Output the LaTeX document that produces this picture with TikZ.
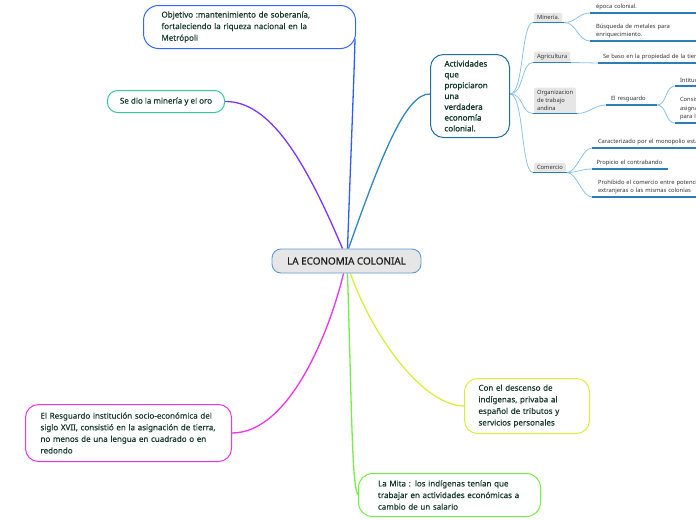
\documentclass[tikz,border=0pt]{standalone}
\usepackage{fontspec}
\setmainfont{Noto Sans}
\newfontfamily\medf{Noto Sans}[FakeBold=0.45]
\newfontfamily\boldf{Noto Sans}[FakeBold=1.4]
\usetikzlibrary{backgrounds}
\definecolor{ink}{HTML}{163A2E}
\definecolor{objblue}{HTML}{3366FF}
\definecolor{objline}{HTML}{2F5CFF}
\definecolor{minteal}{HTML}{33CC99}
\definecolor{purp}{HTML}{7F33FF}
\definecolor{actblue}{HTML}{1E6FA8}
\definecolor{actline}{HTML}{2F86C0}
\definecolor{mag}{HTML}{EE33EE}
\definecolor{ylw}{HTML}{D8F03A}
\definecolor{grn}{HTML}{77EE44}
\definecolor{cborder}{HTML}{5B9BD5}
\definecolor{cfill}{HTML}{E6E6E6}
\definecolor{subline}{HTML}{8CC4E8}
\definecolor{ubarc}{HTML}{2A7FBA}
\definecolor{labfill}{HTML}{E6E6E6}
\definecolor{subtxt}{HTML}{333333}
\tikzset{
  topic/.style={draw, line width=1pt, rounded corners=10pt, text=ink, align=left,
    font=\medf\fontsize{8}{11.6}\selectfont, inner ysep=0pt, anchor=north west},
  central/.style={draw=cborder, fill=cfill, line width=0.9pt, rounded corners=9pt,
    minimum width=149pt, minimum height=24pt, font=\medf\fontsize{9.9}{11}\selectfont,
    text=black!88, inner sep=0pt},
  lbl/.style={fill=labfill, rounded corners=1.5pt, align=left,
    font=\fontsize{5.8}{8.3}\selectfont, text=subtxt, inner xsep=3pt, inner ysep=2.5pt,
    anchor=south west, outer sep=0pt},
  leaf/.style={align=left, font=\fontsize{5.8}{8.5}\selectfont, text=subtxt,
    inner xsep=6pt, inner ysep=3pt, anchor=south west, outer sep=0pt},
  ubar/.style={draw=ubarc, line width=1.8pt},
  twig/.style={draw=subline, line width=0.8pt},
  branch/.style={line width=1.3pt},
}
\begin{document}
\begin{tikzpicture}[x=1pt,y=-1pt]
\useasboundingbox (0,0) rectangle (696,520);

% central
\node[central] (c) at (346.5,261) {LA ECONOMIA COLONIAL};

% main topics
\node[topic, draw=objblue, rounded corners=15pt, text width=176pt, inner xsep=18pt,
  minimum height=43pt] (obj) at (143,5)
  {Objetivo :mantenimiento de soberanía,\\ fortaleciendo la riqueza nacional en la\\ Metrópoli};
\node[topic, draw=minteal, align=center, minimum width=117pt, minimum height=22pt,
  inner xsep=4pt] (oro) at (107,90) {Se dio la minería y el oro};
\node[topic, draw=actblue, rounded corners=13pt, text width=51pt, inner xsep=14pt,
  minimum height=83pt, font=\boldf\fontsize{8}{10.8}\selectfont] (act) at (430,54)
  {Actividades\\ que\\ propiciaron\\ una\\ verdadera\\ economía\\ colonial.};
\node[topic, draw=mag, rounded corners=13pt, text width=176pt, inner xsep=15pt,
  minimum height=57pt] (resg) at (25,404)
  {El Resguardo institución socio-económica del\\ siglo XVII, consistió en la asignación de tierra,\\ no menos de una lengua en cuadrado o en\\ redondo};
\node[topic, draw=ylw, rounded corners=13pt, text width=97pt, inner xsep=14pt,
  minimum height=55pt] (desc) at (464,378)
  {Con el descenso de\\ indígenas, privaba al\\ español de tributos y\\ servicios personales};
\node[topic, draw=grn, rounded corners=14pt, text width=143pt, inner xsep=19.5pt,
  minimum height=43pt] (mita) at (358,473)
  {La Mita : los indígenas tenían que\\ trabajar en actividades económicas a\\ cambio de un salario};

% right subtree labels
\node[lbl] (mine) at (534,22.5) {Minería.};
\node[lbl] (agri) at (534,62.5) {Agricultura};
\node[lbl] (org) at (534,113.5) {Organizacion\\ de trabajo\\ andina};
\node[lbl] (com) at (534,172.5) {Comercio};

% leaves
\node[leaf, text width=140pt] (m1) at (590,13) {época colonial.};
\node[leaf, text width=140pt] (m2) at (590,41) {Búsqueda de metales para\\ enriquecimiento.};
\node[leaf, text width=140pt, inner xsep=5pt] (a1) at (598,63) {Se baso en la propiedad de la tierra};
\node[leaf, text width=41pt, inner xsep=5pt] (r0) at (606,105) {El resguardo};
\node[leaf, text width=140pt, inner xsep=5pt] (r1) at (675,86) {Intitución socio-económica};
\node[leaf, text width=140pt, inner xsep=5pt] (r2) at (675,123) {Consistió en la\\ asignación de tierra\\ para los indígenas};
\node[leaf, text width=140pt] (c1) at (592,148) {Caracterizado por el monopolio estatal};
\node[leaf, text width=67pt, inner xsep=4.5pt] (c2) at (592,169) {Propicio el contrabando};
\node[leaf, text width=140pt] (c3) at (592,197) {Prohibido el comercio entre potencias\\ extranjeras o las mismas colonias};

\begin{scope}[on background layer]
  % main branches
  \draw[branch, draw=objline] ([xshift=1pt]c.north)
    .. controls (351,150) and (354,80) .. ([xshift=-1pt,yshift=-12pt]obj.east);
  \draw[branch, draw=purp] ([xshift=-4pt]c.north)
    .. controls (305,160) and (270,101) .. (oro.east);
  \draw[branch, draw=actline] ([xshift=2pt]c.north)
    .. controls (380,160) and (405,93) .. ([yshift=2pt]act.west);
  \draw[branch, draw=mag] ([xshift=-3pt]c.south)
    .. controls (330,330) and (290,433) .. (resg.east);
  \draw[branch, draw=ylw] ([xshift=4pt]c.south)
    .. controls (370,330) and (420,405) .. (desc.west);
  \draw[branch, draw=grn] ([xshift=1pt]c.south)
    .. controls (352,420) and (352,485) .. (mita.west);

  % twigs from Actividades
  \draw[twig] ([yshift=2pt]act.east) .. controls +(14,0) and +(-12,0) .. ([xshift=-1pt]mine.south west);
  \draw[twig] ([yshift=2pt]act.east) .. controls +(14,0) and +(-12,0) .. ([xshift=-1pt]agri.south west);
  \draw[twig] ([yshift=2pt]act.east) .. controls +(14,0) and +(-12,0) .. ([xshift=-1pt]org.south west);
  \draw[twig] ([yshift=2pt]act.east) .. controls +(14,0) and +(-12,0) .. ([xshift=-1pt]com.south west);

  \draw[twig] ([xshift=2pt]mine.south east) .. controls +(12,0) and +(-12,0) .. (m1.south west);
  \draw[twig] ([xshift=2pt]mine.south east) .. controls +(12,0) and +(-12,0) .. (m2.south west);
  \draw[twig] ([xshift=1pt]agri.south east) -- (a1.south west);
  \draw[twig] ([xshift=1pt]org.south east) .. controls +(12,0) and +(-12,0) .. (r0.south west);
  \draw[twig] (r0.south east) .. controls +(10,0) and +(-10,0) .. (r1.south west);
  \draw[twig] (r0.south east) .. controls +(10,0) and +(-10,0) .. (r2.south west);
  \draw[twig] ([xshift=1pt]com.south east) .. controls +(10,0) and +(-10,0) .. (c1.south west);
  \draw[twig] ([xshift=1pt]com.south east) .. controls +(10,0) and +(-10,0) .. (c2.south west);
  \draw[twig] ([xshift=1pt]com.south east) .. controls +(10,0) and +(-10,0) .. (c3.south west);
\end{scope}

% underlines
\draw[ubar] ([xshift=-1pt]mine.south west) -- ([xshift=2pt]mine.south east);
\draw[ubar] ([xshift=-1pt]agri.south west) -- ([xshift=1pt]agri.south east);
\draw[ubar] ([xshift=-1pt]org.south west) -- ([xshift=1pt]org.south east);
\draw[ubar] ([xshift=-1pt]com.south west) -- ([xshift=1pt]com.south east);
\draw[ubar] (m1.south west) -- (m1.south east);
\draw[ubar] (m2.south west) -- (m2.south east);
\draw[ubar] (a1.south west) -- (a1.south east);
\draw[ubar] (r0.south west) -- (r0.south east);
\draw[ubar] (r1.south west) -- (r1.south east);
\draw[ubar] (r2.south west) -- (r2.south east);
\draw[ubar] (c1.south west) -- (c1.south east);
\draw[ubar] (c2.south west) -- (c2.south east);
\draw[ubar] (c3.south west) -- (c3.south east);
\end{tikzpicture}
\end{document}
